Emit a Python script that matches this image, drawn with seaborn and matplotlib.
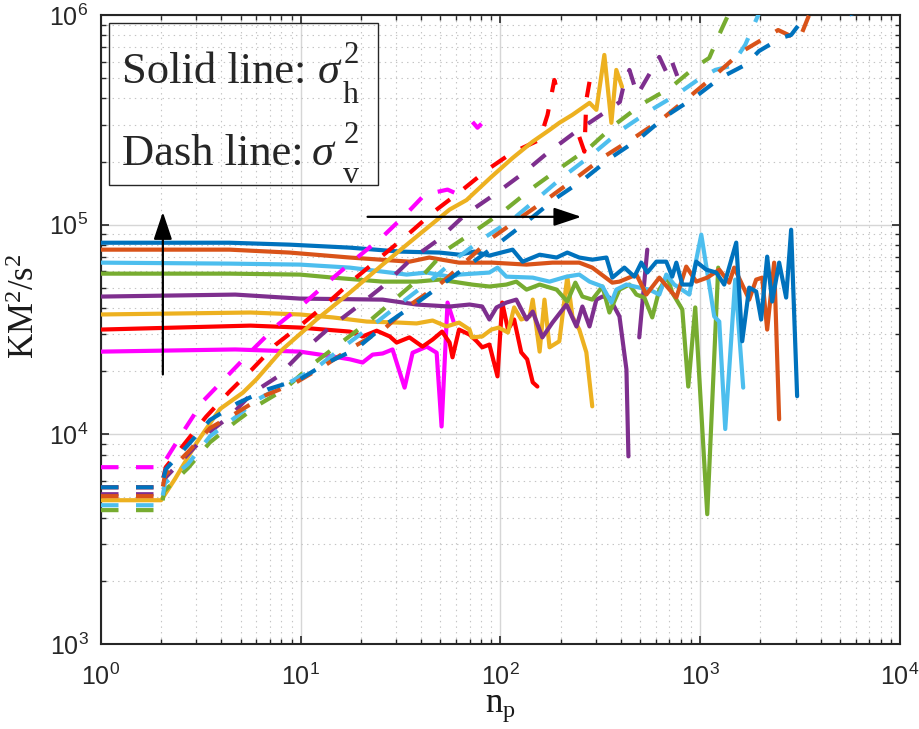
import matplotlib
matplotlib.use("Agg")
import matplotlib.pyplot as plt
import seaborn as sns
from matplotlib.patches import Rectangle
from matplotlib.ticker import NullFormatter

# ---------------------------------------------------------------------------
# Horizontal variance sigma_h^2 (solid) and vertical variance sigma_v^2 (dashed)
# versus the number of points n_p, one pair of curves per case.
# ---------------------------------------------------------------------------

# magenta case
n_h_mag = [1, 4.7, 9.9, 14.5, 17.6, 20.4, 22.9, 25.7, 28.8, 33.1, 36.3, 42.7, 47.9, 50.7, 54.3, 58.2]
var_h_mag = [24800, 25400, 24800, 23500, 22800, 22000, 24000, 24300, 25400, 16700, 24500, 26200,
             24500, 10900, 42500, 34500]
n_v_mag = [1, 2, 2.63, 3.24, 4.27, 5.9, 7.7, 10.1, 13.6, 18.6, 25.4, 33.9, 41.7, 54.3, 58.9]
var_v_mag = [6970, 6970, 10600, 14400, 18900, 26000, 33400, 41100, 52900, 68100, 86700, 113000,
             139000, 147000, 142000]
n_v_mag_tail = [72.4, 76.7, 80.4]
var_v_mag_tail = [309000, 290000, 303000]

# red case
n_h_red = [1, 5.6, 9.9, 17.6, 20.4, 24, 27.9, 30.2, 35, 40.7, 45.7, 51, 55.6, 57.5, 62, 70, 76, 81,
           88, 96.6, 102, 109, 117, 127, 136, 145, 153]
var_h_red = [31600, 33000, 32300, 30900, 29300, 31200, 29300, 27400, 29000, 26200, 28300, 30900,
             27400, 23300, 31600, 29900, 27800, 26000, 26800, 18900, 42500, 31600, 35300, 24600,
             22800, 17700, 16900]
n_v_red = [1, 2, 2.11, 3.35, 4.4, 5.7, 7.5, 10.1, 13.5, 18.4, 25, 33.9, 46.2, 63, 86, 114, 157, 172,
           186, 193]
var_v_red = [5590, 5590, 6970, 12100, 16000, 20400, 26800, 33400, 42000, 54700, 69700, 88700,
             115000, 144000, 183000, 220000, 254000, 334000, 490000, 430000]
n_v_red_tail = [248, 263, 269, 279]
var_v_red_tail = [262000, 223000, 394000, 480000]

# yellow case
n_h_yel = [1, 5.6, 9.9, 14.5, 21.4, 31.3, 38, 45.7, 53.7, 62, 70, 72, 81, 90, 98, 109, 117, 127,
           140, 145, 157, 166, 176, 197, 216, 229, 248, 269, 288]
var_h_yel = [37300, 38100, 37300, 36100, 34500, 34100, 33800, 34900, 32700, 34100, 31600, 29000,
             29300, 31600, 32300, 30600, 40300, 35300, 36500, 43900, 24800, 43900, 26000, 27800,
             56500, 36500, 31600, 24600, 13600]
n_v_yel = [1, 2, 2.34, 3.02, 3.94, 5.13, 6.0, 8.1, 12, 17.6, 25.7, 38, 55.6, 67.6, 90, 115, 145,
           176, 197, 229, 279, 302, 331, 359, 380, 406]
var_v_yel = [4850, 4850, 6100, 9160, 13200, 15800, 18300, 25400, 35300, 47400, 64500, 87700,
             118000, 131000, 169000, 208000, 249000, 283000, 306000, 334000, 381000, 353000,
             645000, 306000, 547000, 454000]

# purple case
n_h_pur = [1, 4.7, 9.9, 25.7, 38, 55.6, 70, 81, 88, 95.5, 107, 120, 135, 145, 162, 182, 214, 240,
           257, 279, 302, 324, 351, 394, 427, 437]
var_h_pur = [45400, 46400, 44400, 43900, 41600, 40700, 41600, 40700, 35300, 40300, 42500, 43900,
             35300, 38500, 29000, 34100, 41600, 32700, 40700, 32700, 43900, 45400, 44900, 36500,
             20400, 7850]
n_h_pur_tail = [495, 543]
var_h_pur_tail = [29000, 76000]
n_v_pur = [1, 2, 2.11, 2.72, 3.51, 4.47, 5.7, 7.7, 10.1, 13.8, 19.5, 25.7, 35.5, 49, 66.8, 93, 129,
           172, 234, 313, 396, 412, 442, 484, 624, 676, 716, 767]
var_v_pur = [5180, 5180, 6240, 8030, 10300, 12300, 15700, 18900, 24600, 32000, 41100, 50700, 68100,
             84900, 112000, 139000, 175000, 220000, 274000, 330000, 385000, 454000, 547000,
             416000, 631000, 535000, 611000, 512000]

# green case
n_h_grn = [1, 4.4, 9.9, 14.5, 25.7, 38, 49.5, 72, 88, 107, 120, 135, 157, 191, 216, 237, 257, 288,
           324, 351, 394, 442, 479, 525, 575, 624, 684, 724, 813, 871, 944, 1084, 1230]
var_h_grn = [58400, 58400, 57800, 55900, 53500, 53500, 54700, 51800, 50700, 51800, 53500, 49000,
             51800, 49000, 43000, 52900, 45400, 43900, 50700, 38100, 49000, 51800, 46400, 44900,
             36100, 49000, 56500, 47400, 39400, 16900, 40300, 4160, 62400]
n_v_grn = [1, 2, 2.07, 2.72, 3.51, 4.73, 6.2, 8.3, 11.4, 15.7, 21.9, 29.9, 41.2, 53, 75, 106, 145,
           200, 279, 372, 513, 708, 933, 1109, 1274, 1365, 1479]
var_v_grn = [4350, 4350, 5350, 6890, 9160, 11500, 13900, 16400, 21500, 27100, 34500, 44400, 57800,
             75200, 93700, 118000, 150000, 187000, 233000, 299000, 377000, 449000, 560000, 624000,
             848000, 978000, 1470000]

# light-blue case
n_h_lbl = [1, 4.4, 9.9, 17.6, 25.7, 33.9, 42.7, 55.6, 62, 88, 96.6, 107, 145, 176, 214, 248, 279,
           324, 359, 380, 427, 495, 556, 624, 676, 741, 881, 1012, 1175, 1245, 1334, 1496, 1641]
var_h_lbl = [65900, 65200, 64500, 62400, 59700, 57800, 59100, 56500, 57800, 59100, 62400, 56500,
             55900, 53500, 56500, 57800, 53500, 50700, 42500, 49000, 51800, 50100, 49000, 46400,
             57800, 51800, 46400, 89600, 36500, 34500, 10600, 54700, 16700]
n_v_lbl = [1, 2, 2.09, 2.72, 3.51, 4.73, 6.1, 8.8, 12, 16.4, 23.2, 32, 44.7, 61, 83, 115, 157, 202,
           279, 403, 569, 759, 989, 1189, 1429, 1679, 2200]
var_v_lbl = [4590, 4590, 5850, 7200, 9780, 12100, 14700, 17700, 20800, 26200, 33400, 42500, 54100,
             69700, 86700, 106000, 136000, 167000, 211000, 283000, 353000, 416000, 496000, 547000,
             572000, 720000, 1300000]

# orange case
n_h_orn = [1, 4.4, 8.8, 17.6, 35, 44, 62, 91, 135, 182, 248, 288, 363, 394, 479, 537, 624, 759, 851,
           955, 1084, 1245, 1396, 1479, 1758, 1905, 2042, 2163, 2344, 2483]
var_h_orn = [76000, 76000, 73600, 69700, 66600, 69700, 65900, 65900, 64500, 65900, 65900, 62400,
             52900, 53500, 57800, 46400, 55900, 44900, 63100, 53500, 55900, 61000, 52900, 62400,
             43900, 54700, 55900, 31600, 65900, 11800]
n_v_orn = [1, 2, 2.09, 2.72, 3.51, 4.79, 6.6, 9.3, 13, 17.8, 26, 35.5, 49.5, 66.8, 91, 126, 178,
           243, 335, 473, 646, 881, 1175, 1603, 2455, 3126, 3508, 3936]
var_v_orn = [5070, 5070, 6380, 8210, 10700, 12700, 15300, 17500, 21100, 25700, 31600, 41600, 51800,
             66600, 86700, 108000, 136000, 169000, 213000, 262000, 320000, 407000, 512000, 666000,
             848000, 760000, 1000000, 1470000]

# blue case
n_h_blu = [1, 4.4, 8.8, 17.6, 31.3, 49.5, 62.4, 74, 88, 115, 129, 157, 191, 216, 248, 288, 339, 363,
           417, 468, 507, 543, 603, 676, 724, 759, 813, 902, 955, 1072, 1202, 1318, 1514, 1622,
           1758, 1905, 2018, 2163, 2291, 2483, 2692, 2851, 3055]
var_h_blu = [82000, 82000, 80300, 77700, 74400, 73600, 71900, 74400, 71200, 76000, 66600, 71900,
             69700, 73600, 69700, 68100, 69700, 55900, 62400, 56500, 65900, 59100, 66600, 66600,
             56500, 65900, 51800, 51800, 66600, 61000, 59100, 51800, 82100, 27800, 50100, 48000,
             35300, 70400, 43000, 65900, 44900, 94600, 15200]
n_v_blu = [1, 2, 2.11, 2.72, 3.51, 4.84, 6.84, 9.9, 13.6, 18.8, 26.6, 37.6, 51, 70, 98.9, 135, 188,
           260, 355, 495, 676, 933, 1259, 1679, 1972, 2541, 2851, 4920, 6100]
var_v_blu = [5590, 5590, 6810, 8870, 11700, 14100, 16400, 18300, 22000, 25400, 33400, 42000, 51800,
             64500, 82100, 103000, 133000, 164000, 208000, 257000, 330000, 403000, 501000, 578000,
             674000, 777000, 803000, 1600000, 830000]

# curve colours
C_MAG, C_RED, C_YEL, C_PUR = "#FF00FF", "#FF0000", "#EDB120", "#7E2F8E"
C_GRN, C_LBL, C_ORN, C_BLU = "#77AC30", "#4DBEEE", "#D95319", "#0072BD"

# annotation arrows (data coordinates)
ARROW_UP_X, ARROW_UP_Y0, ARROW_UP_Y1 = 2.04, 19300, 115000
ARROW_RIGHT_Y, ARROW_RIGHT_X0, ARROW_RIGHT_X1 = 109000, 21.6, 254

# ---------------------------------------------------------------------------
sns.set_theme(style="ticks")
plt.rcParams.update({
    "font.family": ["Liberation Sans", "DejaVu Sans"],
    "mathtext.fontset": "custom",
    "mathtext.rm": "Liberation Serif",
    "mathtext.it": "Liberation Serif:italic",
    "mathtext.bf": "Liberation Serif:bold",
    "lines.scale_dashes": False,
    "axes.edgecolor": "#262626",
    "axes.linewidth": 1.5,
})

fig = plt.figure(figsize=(9.2, 7.29), dpi=100)
ax = fig.add_axes([101 / 920, 1 - 644 / 729, 799 / 920, 629 / 729])
ax.set_xscale("log")
ax.set_yscale("log")

LW = 3.0
DASH = (0, (12.6, 12.6))

# (colour, segments of sigma_h^2, segments of sigma_v^2, sigma_v drawn dashed?)
cases = [
    (C_MAG, [(n_h_mag, var_h_mag)], [(n_v_mag, var_v_mag), (n_v_mag_tail, var_v_mag_tail)], True),
    (C_RED, [(n_h_red, var_h_red)], [(n_v_red, var_v_red), (n_v_red_tail, var_v_red_tail)], True),
    (C_YEL, [(n_h_yel, var_h_yel)], [(n_v_yel, var_v_yel)], False),
    (C_PUR, [(n_h_pur, var_h_pur), (n_h_pur_tail, var_h_pur_tail)], [(n_v_pur, var_v_pur)], True),
    (C_GRN, [(n_h_grn, var_h_grn)], [(n_v_grn, var_v_grn)], True),
    (C_LBL, [(n_h_lbl, var_h_lbl)], [(n_v_lbl, var_v_lbl)], True),
    (C_ORN, [(n_h_orn, var_h_orn)], [(n_v_orn, var_v_orn)], True),
    (C_BLU, [(n_h_blu, var_h_blu)], [(n_v_blu, var_v_blu)], True),
]

# solid sigma_h^2 curves first, then the sigma_v^2 curves on top
for color, h_segs, _, _ in cases:
    for xs, ys in h_segs:
        sns.lineplot(x=xs, y=ys, ax=ax, color=color, linewidth=LW, estimator=None,
                     sort=False, legend=False, zorder=3)
for color, _, v_segs, dashed in cases:
    for xs, ys in v_segs:
        sns.lineplot(x=xs, y=ys, ax=ax, color=color, linewidth=LW, estimator=None,
                     sort=False, legend=False, zorder=3,
                     linestyle=DASH if dashed else "-")

ax.set_xlim(1, 1e4)
ax.set_ylim(1e3, 1e6)

# grid and ticks
ax.set_axisbelow(True)
ax.grid(True, which="major", color="#d6d6d6", linewidth=1.0, linestyle="-")
ax.grid(True, which="minor", color="#c4c4c4", linewidth=0.8, linestyle=(0, (1, 3)))
ax.xaxis.set_minor_formatter(NullFormatter())
ax.yaxis.set_minor_formatter(NullFormatter())
ax.tick_params(which="both", direction="in", top=True, right=True, colors="#262626")
ax.tick_params(which="major", length=6, width=1.2, labelsize=18)
ax.tick_params(which="minor", length=3.5, width=1.0)
ax.tick_params(axis="x", which="major", pad=14)
ax.tick_params(axis="y", which="major", pad=9)
for sp in ax.spines.values():
    sp.set_visible(True)
    sp.set_color("#262626")

ax.set_xlabel(r"n$_{\mathrm{p}}$", fontsize=25, fontfamily="Liberation Serif",
              color="#1a1a1a", labelpad=1)
ax.set_ylabel(r"KM$^{2}$/s$^{2}$", fontsize=25, fontfamily="Liberation Serif",
              color="#1a1a1a")
ax.yaxis.set_label_coords(-0.074, 0.537)

# line-style key box
ax.add_patch(Rectangle((0.010, 0.730), 0.337, 0.257, transform=ax.transAxes,
                       fill=False, edgecolor="#262626", linewidth=1.0, zorder=5))
KEY_FS, IDX_FS = 32, 22
# (label, subscript, baseline, sigma x, superscript baseline, subscript baseline)
key_rows = [
    ("Solid line:", "h", 0.892, 0.270, 0.9237, 0.860),
    ("Dash line:", "v", 0.7615, 0.263, 0.7965, 0.733),
]
for label, sub, y_base, x_sig, y_sup, y_sub in key_rows:
    ax.text(0.026, y_base, label, transform=ax.transAxes, fontsize=KEY_FS,
            fontfamily="Liberation Serif", va="baseline", ha="left", zorder=6)
    ax.text(x_sig, y_base, r"$\sigma$", transform=ax.transAxes, fontsize=KEY_FS,
            va="baseline", ha="left", zorder=6)
    ax.text(0.304, y_sup, "2", transform=ax.transAxes, fontsize=IDX_FS,
            fontfamily="Liberation Serif", va="baseline", ha="left", zorder=6)
    ax.text(0.303, y_sub, sub, transform=ax.transAxes, fontsize=IDX_FS + 1,
            fontfamily="Liberation Serif", va="baseline", ha="left", zorder=6)

# trend arrows
arrow_kw = dict(arrowstyle="-|>,head_length=1.2,head_width=0.4", color="black", lw=1.6,
                mutation_scale=14, shrinkA=0, shrinkB=0)
ax.annotate("", xy=(ARROW_UP_X, ARROW_UP_Y1), xytext=(ARROW_UP_X, ARROW_UP_Y0),
            arrowprops=arrow_kw, zorder=7)
ax.annotate("", xy=(ARROW_RIGHT_X1, ARROW_RIGHT_Y), xytext=(ARROW_RIGHT_X0, ARROW_RIGHT_Y),
            arrowprops=arrow_kw, zorder=7)

fig.savefig("out.png", dpi=100)
